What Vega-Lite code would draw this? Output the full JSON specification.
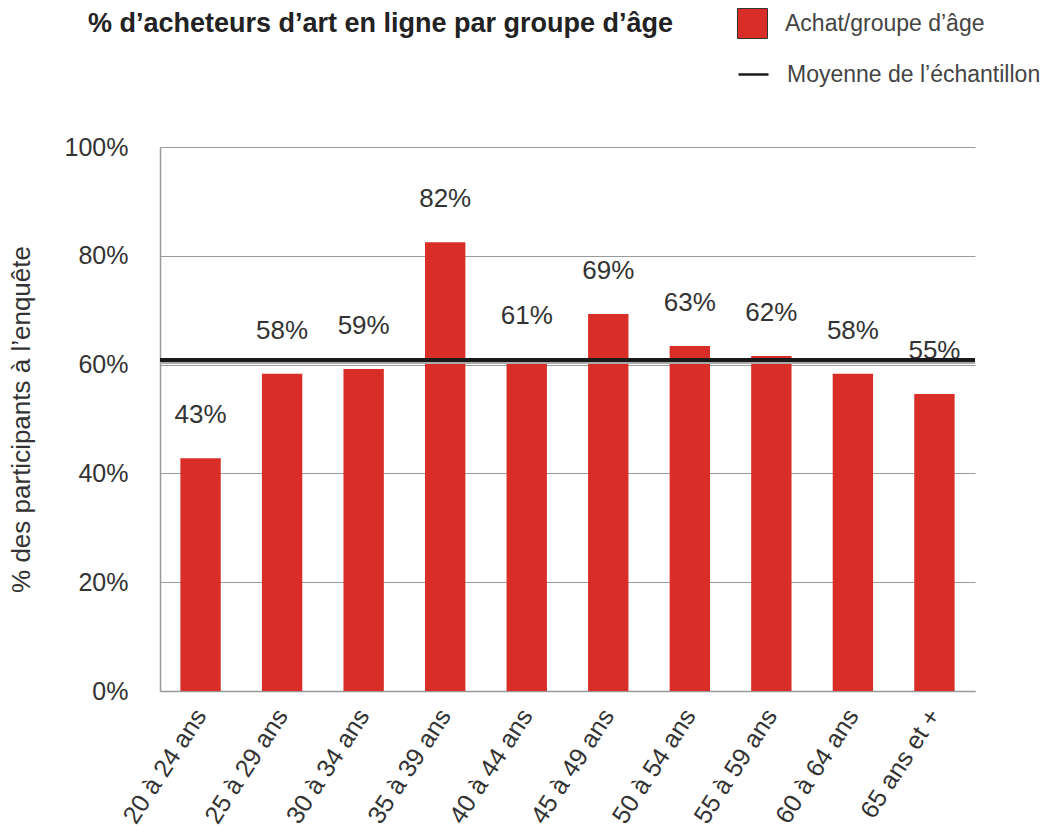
{
  "$schema": "https://vega.github.io/schema/vega-lite/v6.json",
  "autosize": {"type": "none"},
  "padding": {"left": 160, "top": 147, "right": 77, "bottom": 143},
  "width": 815,
  "height": 544,
  "background": "white",
  "config": {
    "font": "Liberation Sans",
    "view": {"stroke": null}
  },
  "title": {
    "text": "% d’acheteurs d’art en ligne par groupe d’âge",
    "anchor": "start",
    "frame": "group",
    "dx": -72,
    "offset": 0,
    "dy": 30,
    "fontSize": 27,
    "fontWeight": "bold",
    "color": "#222222"
  },
  "datasets": {
    "bars": [
      {"groupe": "20 à 24 ans", "pct": 42.8, "label": "43%"},
      {"groupe": "25 à 29 ans", "pct": 58.3, "label": "58%"},
      {"groupe": "30 à 34 ans", "pct": 59.2, "label": "59%"},
      {"groupe": "35 à 39 ans", "pct": 82.5, "label": "82%"},
      {"groupe": "40 à 44 ans", "pct": 61.0, "label": "61%"},
      {"groupe": "45 à 49 ans", "pct": 69.3, "label": "69%"},
      {"groupe": "50 à 54 ans", "pct": 63.4, "label": "63%"},
      {"groupe": "55 à 59 ans", "pct": 61.6, "label": "62%"},
      {"groupe": "60 à 64 ans", "pct": 58.3, "label": "58%"},
      {"groupe": "65 ans et +", "pct": 54.6, "label": "55%"}
    ],
    "mean": [{"serie": "Moyenne de l’échantillon", "pct": 60.85}]
  },
  "layer": [
    {
      "data": {"name": "bars"},
      "mark": {"type": "bar", "stroke": null},
      "encoding": {
        "x": {
          "field": "groupe",
          "type": "nominal",
          "sort": null,
          "scale": {"paddingInner": 0.505, "paddingOuter": 0.25},
          "axis": {
            "title": null,
            "labelAngle": -57,
            "labelFontSize": 25,
            "labelColor": "#333333",
            "labelPadding": 20,
            "ticks": false,
            "domainColor": "#999999",
            "domainWidth": 1.5,
            "labelAlign": "right",
            "labelBaseline": "middle",
            "labelLimit": 300
          }
        },
        "y": {
          "field": "pct",
          "type": "quantitative",
          "scale": {"domain": [0, 100]},
          "axis": {
            "title": "% des participants à l’enquête",
            "titleFontSize": 26,
            "titleFontWeight": "normal",
            "titleColor": "#333333",
            "titlePadding": 30,
            "values": [0, 20, 40, 60, 80, 100],
            "labelExpr": "datum.value + '%'",
            "labelFontSize": 25,
            "labelColor": "#333333",
            "labelPadding": 32,
            "ticks": false,
            "domainColor": "#999999",
            "domainWidth": 1.5,
            "gridColor": "#999999",
            "gridWidth": 1
          }
        },
        "fill": {
          "datum": "Achat/groupe d’âge",
          "type": "nominal",
          "scale": {"range": ["#d92e27"]},
          "legend": {
            "orient": "none",
            "legendX": 577,
            "legendY": -139,
            "title": null,
            "symbolType": "square",
            "symbolSize": 900,
            "symbolStrokeColor": "#333333",
            "symbolStrokeWidth": 1,
            "labelFontSize": 23,
            "labelColor": "#444444",
            "labelOffset": 17,
            "labelLimit": 400
          }
        }
      }
    },
    {
      "data": {"name": "bars"},
      "mark": {"type": "text", "fontSize": 26, "color": "#333333", "baseline": "middle", "dy": -43},
      "encoding": {
        "x": {"field": "groupe", "type": "nominal", "sort": null},
        "y": {"field": "pct", "type": "quantitative"},
        "text": {"field": "label"}
      }
    },
    {
      "data": {"name": "mean"},
      "mark": {"type": "rule", "strokeWidth": 3, "color": "#aaaaaa", "yOffset": 2.5},
      "encoding": {
        "y": {"field": "pct", "type": "quantitative"}
      }
    },
    {
      "data": {"name": "mean"},
      "mark": {"type": "rule", "strokeWidth": 4},
      "encoding": {
        "y": {"field": "pct", "type": "quantitative"},
        "stroke": {
          "field": "serie",
          "type": "nominal",
          "scale": {"range": ["#1a1a1a"]},
          "legend": {
            "orient": "none",
            "legendX": 577,
            "legendY": -89,
            "title": null,
            "symbolType": "stroke",
            "symbolSize": 900,
            "symbolStrokeWidth": 2.5,
            "labelFontSize": 23,
            "labelColor": "#444444",
            "labelOffset": 17,
            "labelLimit": 400
          }
        }
      }
    }
  ]
}
